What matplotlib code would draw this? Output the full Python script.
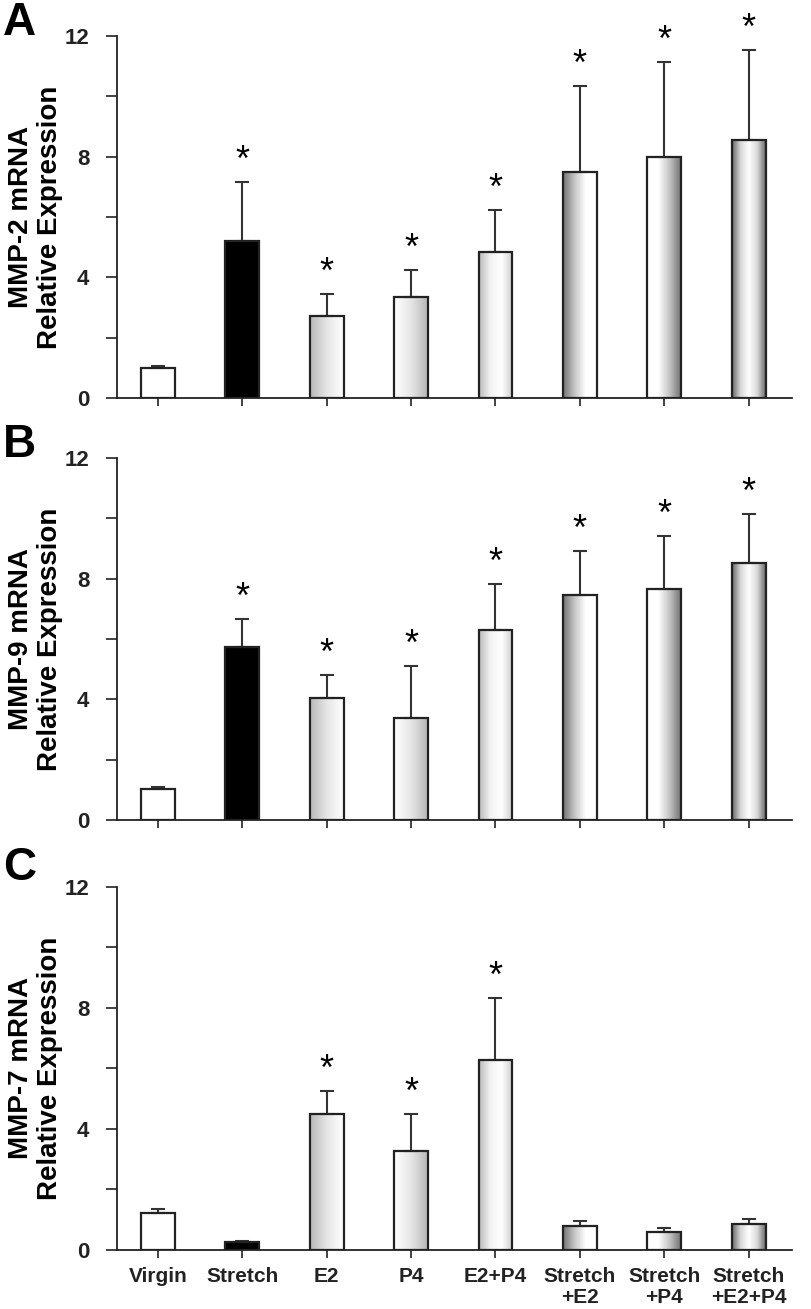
import numpy as np
import matplotlib
matplotlib.use("Agg")
import matplotlib.pyplot as plt
from matplotlib.colors import LinearSegmentedColormap

groups = ["Virgin", "Stretch", "E2", "P4", "E2+P4", "Stretch\n+E2", "Stretch\n+P4", "Stretch\n+E2+P4"]

mmp2 = [1.0, 5.2, 2.72, 3.34, 4.83, 7.48, 8.0, 8.55]
mmp2_err = [0.05, 1.95, 0.72, 0.9, 1.39, 2.85, 3.12, 2.98]
mmp2_sig = [False, True, True, True, True, True, True, True]

mmp9 = [1.03, 5.72, 4.04, 3.38, 6.31, 7.47, 7.66, 8.52]
mmp9_err = [0.07, 0.94, 0.76, 1.72, 1.52, 1.44, 1.75, 1.61]
mmp9_sig = [False, True, True, True, True, True, True, True]

mmp7 = [1.22, 0.25, 4.5, 3.27, 6.28, 0.8, 0.58, 0.87]
mmp7_err = [0.12, 0.04, 0.76, 1.23, 2.05, 0.15, 0.13, 0.14]
mmp7_sig = [False, False, True, True, True, False, False, False]

panels = [
    ("A", "MMP-2 mRNA\nRelative Expression", mmp2, mmp2_err, mmp2_sig),
    ("B", "MMP-9 mRNA\nRelative Expression", mmp9, mmp9_err, mmp9_sig),
    ("C", "MMP-7 mRNA\nRelative Expression", mmp7, mmp7_err, mmp7_sig),
]

# horizontal shading of each bar (left -> right)
fills = [
    ["#ffffff", "#ffffff"],
    ["#000000", "#000000"],
    ["#b8b8b8", "#e6e6e6", "#ffffff"],
    ["#ffffff", "#e6e6e6", "#b8b8b8"],
    ["#bababa", "#f2f2f2", "#ffffff", "#cdcdcd"],
    ["#747474", "#c4c4c4", "#ffffff", "#ffffff"],
    ["#ffffff", "#ffffff", "#c4c4c4", "#747474"],
    ["#686868", "#d8d8d8", "#ffffff", "#d8d8d8", "#686868"],
]

fig = plt.figure(figsize=(8.12, 13.09), dpi=100)
axes_rect = [
    [0.144, 0.696, 0.831, 0.2766],
    [0.144, 0.3736, 0.831, 0.2766],
    [0.144, 0.0451, 0.831, 0.2773],
]
letter_y = [0.999, 0.677, 0.354]

x = np.arange(len(groups))
width = 0.40
edge = "#222222"
font = "Liberation Sans"

for (letter, ylab, vals, errs, sig), rect, ly in zip(panels, axes_rect, letter_y):
    ax = fig.add_axes(rect)
    bars = ax.bar(x, vals, width, color="none", edgecolor=edge, linewidth=1.6, zorder=3)
    for i, b in enumerate(bars):
        cmap = LinearSegmentedColormap.from_list("g%d" % i, fills[i])
        grad = np.linspace(0, 1, 100).reshape(1, -1)
        im = ax.imshow(grad, cmap=cmap, aspect="auto", zorder=2,
                       extent=[x[i] - width / 2, x[i] + width / 2, 0, vals[i]])
        im.set_clip_path(b)
    ax.errorbar(x, vals, yerr=[np.zeros(len(vals)), errs], fmt="none",
                ecolor="#333333", elinewidth=1.5, capsize=5, capthick=1.5, zorder=2.5)
    for i in range(len(vals)):
        if sig[i]:
            ax.annotate("*", xy=(x[i], vals[i] + errs[i]), xytext=(0, 8),
                        textcoords="offset points", ha="center", va="baseline",
                        fontsize=26, family=font)
    ax.set_xlim(-0.486, 7.51)
    ax.set_ylim(0, 12)
    ax.set_yticks([0, 4, 8, 12])
    ax.set_yticks([2, 6, 10], minor=True)
    ax.set_xticks(x)
    if letter == "C":
        ax.set_xticklabels(groups, family=font, fontweight="bold", fontsize=15,
                           linespacing=1.15)
    else:
        ax.set_xticklabels([])
    ax.tick_params(axis="y", which="both", direction="out", length=8, width=1.2,
                   colors="#222222", pad=12)
    ax.tick_params(axis="x", direction="out", length=6, width=1.2, colors="#222222", pad=6)
    for lab in ax.get_yticklabels():
        lab.set_family(font)
        lab.set_fontweight("bold")
        lab.set_fontsize(16)
    for s in ["top", "right"]:
        ax.spines[s].set_visible(False)
    for s in ["left", "bottom"]:
        ax.spines[s].set_linewidth(1.3)
        ax.spines[s].set_color("#222222")
    ax.set_ylabel(ylab, family=font, fontweight="bold", fontsize=20,
                  linespacing=1.15)
    ax.yaxis.set_label_coords(-0.08, 0.5)
    fig.text(0.004, ly, letter, family=font, fontweight="bold",
             fontsize=33, va="top", ha="left")

fig.savefig("out.png", dpi=100)
